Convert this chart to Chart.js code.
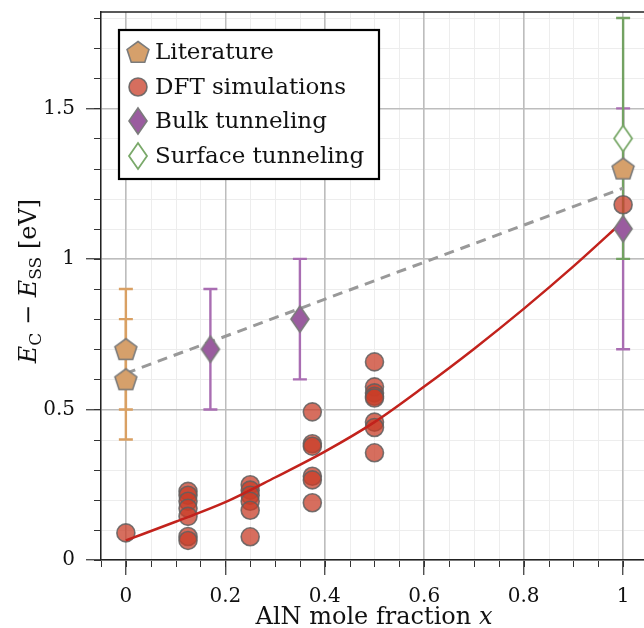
<!DOCTYPE html>
<html>
<head>
<meta charset="utf-8">
<script src="https://cdn.jsdelivr.net/npm/chart.js@4"></script>
<style>
  html, body { margin: 0; padding: 0; background: #fff; }
  #wrap { position: relative; width: 644px; height: 628px; }
</style>
</head>
<body>
<div id="wrap"><canvas id="chart" width="644" height="628"></canvas></div>
<script>
'use strict';
// values
const LIT_X = [0, 0, 1];
const LIT_Y = [0.7, 0.6, 1.3];
const LIT_ERR = [0.2, 0.2, 0];

const DFT_X = [0,
  0.125, 0.125, 0.125, 0.125, 0.125, 0.125, 0.125,
  0.25, 0.25, 0.25, 0.25, 0.25, 0.25,
  0.375, 0.375, 0.375, 0.375, 0.375, 0.375,
  0.5, 0.5, 0.5, 0.5, 0.5, 0.5, 0.5, 0.5,
  1];
const DFT_Y = [0.09,
  0.228, 0.215, 0.195, 0.172, 0.145, 0.078, 0.065,
  0.25, 0.232, 0.215, 0.195, 0.165, 0.077,
  0.492, 0.386, 0.378, 0.278, 0.266, 0.19,
  0.658, 0.575, 0.555, 0.544, 0.538, 0.458, 0.44, 0.356,
  1.18];

const BULK_X = [0.17, 0.35, 1];
const BULK_Y = [0.7, 0.8, 1.1];
const BULK_ERR = [0.2, 0.2, 0.4];

const SURF_X = [1];
const SURF_Y = [1.4];
const SURF_ERR = [0.4];

const FIT_X = [0, 0.1, 0.2, 0.3, 0.4, 0.5, 0.6, 0.7, 0.8, 0.9, 1];
const FIT_Y = [0.065, 0.127, 0.192, 0.274, 0.36, 0.458, 0.576, 0.701, 0.834, 0.975, 1.125];

const TREND_X = [0, 1];
const TREND_Y = [0.62, 1.235];

const X_TICKS = [0, 0.2, 0.4, 0.6, 0.8, 1];
const Y_TICKS = [0, 0.5, 1, 1.5];

const LABELS = ['Literature', 'DFT simulations', 'Bulk tunneling', 'Surface tunneling'];

const SERIF = '"DejaVu Serif", "Liberation Serif", serif';
const C = {
  lit: '#d6a06b', litBar: '#d9a063',
  dft: 'rgba(200,62,40,0.75)', dftEdge: 'rgba(95,95,95,0.85)',
  bulk: '#9a5c9f', bulkBar: '#a96db2',
  surf: '#7aa96a', surfBar: '#73a262',
  edge: '#7b7b7b', fit: '#c2221c', trend: '#999999',
};

const pts = (xs, ys) => xs.map((x, i) => ({ x, y: ys[i] }));

function markerCanvas(w, h, draw) {
  const c = document.createElement('canvas');
  c.width = w; c.height = h;
  draw(c.getContext('2d'), w, h);
  return c;
}
const pentagon = markerCanvas(26, 26, (g, w, h) => {
  const r = 11.5, cx = w / 2, cy = h / 2 + 1;
  g.beginPath();
  for (let k = 0; k < 5; k++) {
    const a = -Math.PI / 2 + k * 2 * Math.PI / 5;
    g.lineTo(cx + r * Math.cos(a), cy + r * Math.sin(a));
  }
  g.closePath();
  g.fillStyle = C.lit; g.fill();
  g.strokeStyle = C.edge; g.lineWidth = 1.6; g.stroke();
});
function thinDiamond(fill, stroke, lw) {
  return markerCanvas(22, 30, (g, w, h) => {
    g.beginPath();
    g.moveTo(w / 2, 2); g.lineTo(w - 2, h / 2); g.lineTo(w / 2, h - 2); g.lineTo(2, h / 2);
    g.closePath();
    g.fillStyle = fill; g.fill();
    g.strokeStyle = stroke; g.lineWidth = lw; g.stroke();
  });
}
const bulkDiamond = thinDiamond(C.bulk, C.edge, 1.6);
const surfDiamond = thinDiamond('#ffffff', C.surf, 1.8);

const errorBars = {
  id: 'errorBars',
  beforeDatasetsDraw(chart) {
    const { ctx, scales: { x, y } } = chart;
    const sets = [
      [LIT_X, LIT_Y, LIT_ERR, C.litBar],
      [BULK_X, BULK_Y, BULK_ERR, C.bulkBar],
      [SURF_X, SURF_Y, SURF_ERR, C.surfBar],
    ];
    ctx.save();
    ctx.lineWidth = 2.4;
    sets.forEach(([xs, ys, es, col]) => {
      ctx.strokeStyle = col;
      xs.forEach((xv, i) => {
        if (!es[i]) return;
        const px = x.getPixelForValue(xv);
        const lo = y.getPixelForValue(ys[i] - es[i]);
        const hi = y.getPixelForValue(ys[i] + es[i]);
        ctx.beginPath();
        ctx.moveTo(px, lo); ctx.lineTo(px, hi);
        ctx.moveTo(px - 7, lo); ctx.lineTo(px + 7, lo);
        ctx.moveTo(px - 7, hi); ctx.lineTo(px + 7, hi);
        ctx.stroke();
      });
    });
    ctx.restore();
  },
};

const minorGrid = {
  id: 'minorGrid',
  beforeDraw(chart) {
    const { ctx, chartArea: a, scales: { x, y } } = chart;
    ctx.save();
    ctx.lineWidth = 1;
    for (let v = -0.05; v <= 1.0401; v += 0.05) {
      const px = Math.round(x.getPixelForValue(v)) + 0.5;
      ctx.strokeStyle = '#ededed';
      ctx.beginPath(); ctx.moveTo(px, a.top); ctx.lineTo(px, a.bottom); ctx.stroke();
      ctx.strokeStyle = '#333';
      ctx.beginPath(); ctx.moveTo(px, a.bottom); ctx.lineTo(px, a.bottom + 7); ctx.stroke();
    }
    for (let v = 0; v <= 1.8001; v += 0.1) {
      const py = Math.round(y.getPixelForValue(v)) + 0.5;
      ctx.strokeStyle = '#ededed';
      ctx.beginPath(); ctx.moveTo(a.left, py); ctx.lineTo(a.right, py); ctx.stroke();
      ctx.strokeStyle = '#333';
      ctx.beginPath(); ctx.moveTo(a.left - 7, py); ctx.lineTo(a.left, py); ctx.stroke();
    }
    ctx.restore();
  },
};

function drawRich(ctx, parts, cx, cy) {
  let w = 0;
  parts.forEach((p) => { ctx.font = p.font; w += ctx.measureText(p.t).width; });
  let xx = cx - w / 2;
  parts.forEach((p) => {
    ctx.font = p.font;
    ctx.fillText(p.t, xx, cy + (p.dy || 0));
    xx += ctx.measureText(p.t).width;
  });
}

const decorations = {
  id: 'decorations',
  afterDraw(chart) {
    const { ctx, chartArea: a, scales: { x } } = chart;
    ctx.save();
    // top frame line
    ctx.strokeStyle = '#222'; ctx.lineWidth = 1.5;
    ctx.beginPath(); ctx.moveTo(a.left, a.top); ctx.lineTo(a.right, a.top); ctx.stroke();

    ctx.fillStyle = '#111';
    ctx.textBaseline = 'alphabetic';
    // x tick labels
    ctx.font = '20px ' + SERIF; ctx.textAlign = 'center';
    X_TICKS.forEach((v) => ctx.fillText(String(v), x.getPixelForValue(v), 602));
    ctx.textAlign = 'left';

    const reg = '24px ' + SERIF, it = 'italic 24px ' + SERIF, sub = '17px ' + SERIF;
    // x title
    drawRich(ctx, [{ t: 'AlN mole fraction ', font: reg }, { t: 'x', font: it }], 374, 624);
    // y title
    ctx.translate(28, 281);
    ctx.rotate(-Math.PI / 2);
    drawRich(ctx, [
      { t: 'E', font: it }, { t: 'C', font: sub, dy: 5 },
      { t: ' − ', font: reg },
      { t: 'E', font: it }, { t: 'SS', font: sub, dy: 5 },
      { t: ' [eV]', font: reg },
    ], 0, 8);
    ctx.setTransform(1, 0, 0, 1, 0, 0);

    // legend
    const L = 119, T = 30, W = 260, H = 149;
    ctx.fillStyle = '#fff';
    ctx.fillRect(L, T, W, H);
    ctx.strokeStyle = '#000'; ctx.lineWidth = 2.2;
    ctx.strokeRect(L, T, W, H);
    const rows = [52, 87, 121, 156];
    ctx.font = '23px ' + SERIF; ctx.fillStyle = '#111'; ctx.textBaseline = 'middle';
    rows.forEach((ry, i) => {
      const mx = 138;
      if (i === 0) ctx.drawImage(pentagon, mx - 13, ry - 13);
      else if (i === 1) {
        ctx.beginPath(); ctx.arc(mx, ry, 9, 0, Math.PI * 2);
        ctx.fillStyle = C.dft; ctx.fill();
        ctx.strokeStyle = C.dftEdge; ctx.lineWidth = 1.6; ctx.stroke();
        ctx.fillStyle = '#111';
      } else if (i === 2) ctx.drawImage(bulkDiamond, mx - 11, ry - 15);
      else ctx.drawImage(surfDiamond, mx - 11, ry - 15);
      ctx.fillText(LABELS[i], 155, ry + 1);
    });
    ctx.restore();
  },
};

const chart = new Chart(document.getElementById('chart').getContext('2d'), {
  type: 'scatter',
  data: {
    datasets: [
      { label: LABELS[3], data: pts(SURF_X, SURF_Y), pointStyle: surfDiamond, order: 0 },
      { label: LABELS[0], data: pts(LIT_X, LIT_Y), pointStyle: pentagon, order: 1 },
      { label: LABELS[2], data: pts(BULK_X, BULK_Y), pointStyle: bulkDiamond, order: 2 },
      { label: 'fit', type: 'line', data: pts(FIT_X, FIT_Y), borderColor: C.fit, borderWidth: 2.5,
        pointRadius: 0, cubicInterpolationMode: 'monotone', order: 3 },
      { label: LABELS[1], data: pts(DFT_X, DFT_Y), pointStyle: 'circle', pointRadius: 9,
        backgroundColor: C.dft, borderColor: C.dftEdge, borderWidth: 1.6, order: 4 },
      { label: 'trend', type: 'line', data: pts(TREND_X, TREND_Y), borderColor: C.trend, borderWidth: 3,
        borderDash: [10, 7], pointRadius: 0, order: 5 },
    ],
  },
  options: {
    responsive: false, animation: false,
    layout: { autoPadding: false, padding: { top: 12, right: 0, left: 0, bottom: 0 } },
    plugins: { legend: { display: false }, tooltip: { enabled: false } },
    scales: {
      x: {
        type: 'linear', min: -0.05, max: 1.042,
        afterFit: (s) => { s.height = 68; s.paddingLeft = 0; s.paddingRight = 0; },
        afterBuildTicks: (s) => { s.ticks = X_TICKS.map((v) => ({ value: v })); },
        grid: { color: '#bdbdbd', lineWidth: 1.5, tickLength: 15, tickColor: '#333', tickWidth: 1.2 },
        border: { color: '#222', width: 1.5 },
        ticks: { display: false },
      },
      y: {
        type: 'linear', min: 0, max: 1.82,
        afterFit: (s) => { s.width = 101; s.paddingTop = 0; s.paddingBottom = 0; },
        afterBuildTicks: (s) => { s.ticks = Y_TICKS.map((v) => ({ value: v })); },
        grid: { color: '#bdbdbd', lineWidth: 1.5, tickLength: 15, tickColor: '#333', tickWidth: 1.2 },
        border: { color: '#222', width: 1.5 },
        ticks: { color: '#111', font: { family: SERIF, size: 20 }, padding: 11,
          callback: (v) => String(v) },
      },
    },
  },
  plugins: [minorGrid, errorBars, decorations],
});
</script>
</body>
</html>
